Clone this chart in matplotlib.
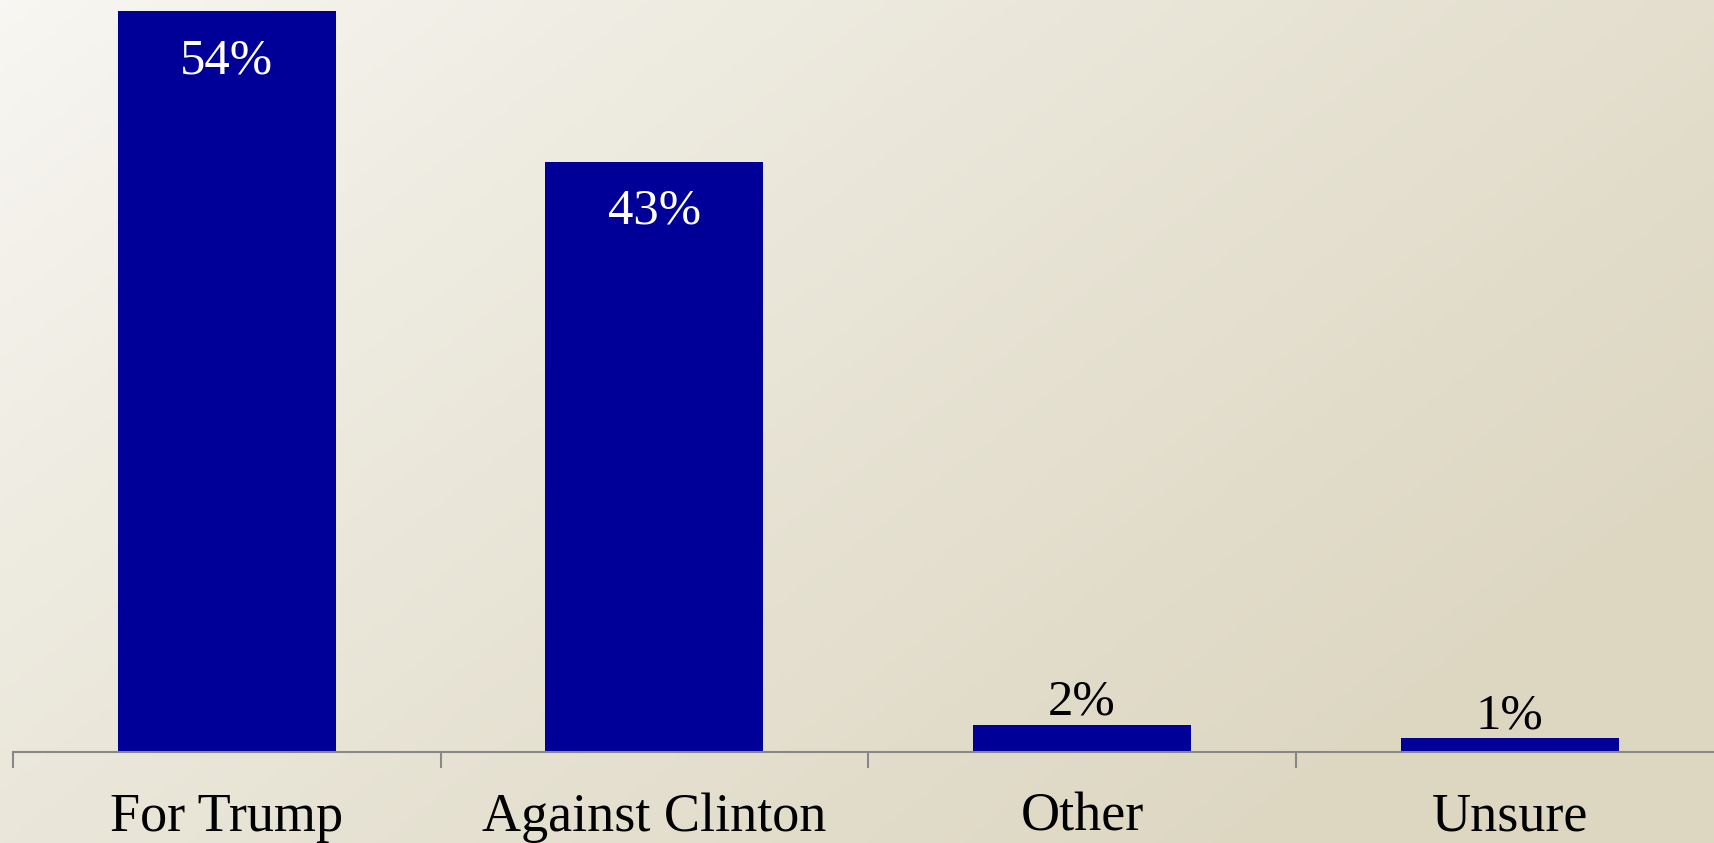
import numpy as np
import matplotlib
matplotlib.use('Agg')
import matplotlib.pyplot as plt

categories = ['For Trump', 'Against Clinton', 'Other', 'Unsure']
values = [54, 43, 2, 1]
labels = ['54%', '43%', '2%', '1%']

plt.rcParams['font.family'] = ['Liberation Serif', 'DejaVu Serif']

W, H = 1715, 843
fig = plt.figure(figsize=(W / 100, H / 100), dpi=100)

# background gradient, light top-left to tan bottom-right
bg = fig.add_axes([0, 0, 1, 1])
yy, xx = np.mgrid[0:1:200j, 0:1:400j]
t = np.clip(0.73 * xx + 0.46 * yy, 0, 1) ** 0.85
c0 = np.array([0xf8, 0xf7, 0xf3]) / 255
c1 = np.array([0xdd, 0xd7, 0xc2]) / 255
img = c0 + (c1 - c0) * t[..., None]
bg.imshow(img, aspect='auto', extent=[0, 1, 0, 1])
bg.axis('off')

left = 13 / W
width = 4 * 427.6 / W
bottom = (H - 752) / H
height = (752 - 11) / H
ax = fig.add_axes([left, bottom, width, height])
ax.patch.set_alpha(0)

x = np.arange(len(categories))
bars = ax.bar(x, values, width=0.51, color='#000099', zorder=2)

ax.set_xlim(-0.5, 3.5)
ax.set_ylim(0, 54)

for b, v, lab in zip(bars, values, labels):
    cx = b.get_x() + b.get_width() / 2
    if v > 10:
        ax.annotate(lab, (cx, v), xytext=(0, -62 * 0.72), textcoords='offset points',
                    ha='center', va='baseline', color='white', fontsize=36.5)
    else:
        ax.annotate(lab, (cx, v), xytext=(0, 10 * 0.72), textcoords='offset points',
                    ha='center', va='baseline', color='black', fontsize=36.5)

for s in ['top', 'right', 'left']:
    ax.spines[s].set_visible(False)
ax.spines['bottom'].set_color('#888888')
ax.spines['bottom'].set_linewidth(1.5)
ax.set_yticks([])

ax.set_xticks(x)
ax.set_xticklabels(categories, fontsize=39)
ax.tick_params(axis='x', which='major', length=0, pad=29)
ax.set_xticks(np.arange(-0.5, 4, 1), minor=True)
ax.tick_params(axis='x', which='minor', length=11.5, width=1.5, color='#888888')

fig.savefig('out.png', dpi=100)
